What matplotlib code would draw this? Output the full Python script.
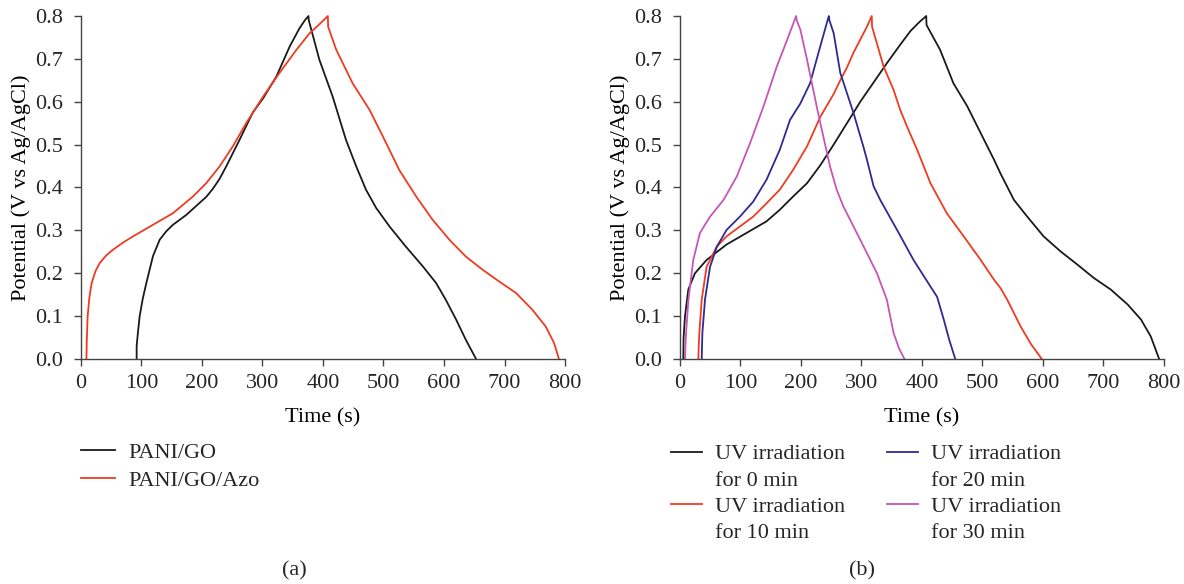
import numpy as np
import matplotlib
matplotlib.use('Agg')
import matplotlib.pyplot as plt
from matplotlib.lines import Line2D

plt.rcParams['font.family'] = ['Liberation Serif', 'DejaVu Serif']
plt.rcParams['text.color'] = '#262626'

# (a) PANI/GO vs PANI/GO/Azo
t_go = [92, 92, 94, 97, 102, 108, 119, 130, 141, 152, 174, 196, 207, 218, 229,
        240, 262, 284, 301, 323, 345, 361, 370, 376, 376.5, 394, 416, 438, 455,
        471, 488, 510, 537, 565, 587, 603, 620, 636, 653]
v_go = [0.0, 0.03, 0.06, 0.10, 0.14, 0.177, 0.24, 0.278, 0.298, 0.313, 0.336,
        0.364, 0.378, 0.397, 0.42, 0.449, 0.511, 0.575, 0.608, 0.659, 0.729,
        0.771, 0.79, 0.80, 0.79, 0.698, 0.612, 0.511, 0.449, 0.395, 0.352, 0.309,
        0.262, 0.216, 0.177, 0.138, 0.092, 0.045, 0.0]

t_azo = [9, 9.5, 11, 14, 17.6, 24, 31, 42, 53, 70, 86, 119, 152, 185, 207, 229,
         251, 273, 301, 328, 356, 378, 395, 408, 408.5, 422, 449, 477, 499, 526,
         554, 581, 609, 636, 664, 691, 719, 746, 768, 782, 790]
v_azo = [0.0, 0.04, 0.1, 0.145, 0.177, 0.205, 0.224, 0.242, 0.255, 0.272, 0.286,
         0.313, 0.340, 0.379, 0.410, 0.449, 0.496, 0.550, 0.612, 0.667, 0.721,
         0.760, 0.782, 0.80, 0.775, 0.721, 0.643, 0.581, 0.519, 0.441, 0.379,
         0.325, 0.278, 0.239, 0.208, 0.181, 0.154, 0.115, 0.076, 0.037, 0.0]

# (b) UV irradiation time
t_0 = [5.5, 6, 8.3, 13.8, 24.8, 44, 77, 110, 143, 165, 187, 210, 232, 254, 276,
       298, 320, 342, 364, 381, 395, 407, 407.5, 430, 452, 475, 497, 519, 530,
       552, 574, 601, 629, 657, 684, 712, 740, 762, 778, 792]
v_0 = [0.0, 0.05, 0.1, 0.162, 0.2, 0.231, 0.267, 0.294, 0.321, 0.348, 0.379,
       0.41, 0.452, 0.50, 0.55, 0.60, 0.645, 0.69, 0.733, 0.765, 0.785, 0.80,
       0.779, 0.721, 0.643, 0.589, 0.527, 0.465, 0.432, 0.371, 0.332, 0.286,
       0.251, 0.22, 0.189, 0.162, 0.127, 0.092, 0.053, 0.0]

t_10 = [30.4, 31, 32, 36, 44, 60.7, 77, 99, 121, 143, 165, 187, 210, 232, 254,
        265, 276, 287, 298, 309, 317, 317.5, 336.6, 353, 364, 375, 392, 414, 441,
        469, 497, 519, 530, 541, 563, 580, 598]
v_10 = [0.0, 0.03, 0.06, 0.139, 0.215, 0.262, 0.286, 0.309, 0.332, 0.363, 0.395,
        0.441, 0.496, 0.565, 0.618, 0.65, 0.68, 0.715, 0.745, 0.775, 0.80, 0.775,
        0.682, 0.628, 0.581, 0.543, 0.488, 0.41, 0.34, 0.286, 0.231, 0.185, 0.165,
        0.138, 0.076, 0.035, 0.0]

t_20 = [35.9, 36.5, 37, 41.4, 49.7, 61, 77, 99, 121, 143, 165, 182, 199, 215,
        232, 240, 246, 247, 254, 265, 287, 303, 309, 320, 331, 358.8, 386, 414,
        425, 436, 445, 455]
v_20 = [0.0, 0.03, 0.06, 0.139, 0.215, 0.262, 0.301, 0.332, 0.367, 0.418, 0.488,
        0.558, 0.596, 0.643, 0.73, 0.77, 0.80, 0.79, 0.76, 0.667, 0.573, 0.496,
        0.465, 0.403, 0.371, 0.301, 0.231, 0.169, 0.145, 0.092, 0.045, 0.0]

t_30 = [8.3, 9, 10, 14, 22, 33, 49.7, 72, 94, 116, 138, 160, 177, 192, 193, 199,
        210, 226, 232, 248, 259, 270, 298, 325.6, 342, 353, 362, 371]
v_30 = [0.0, 0.03, 0.06, 0.139, 0.231, 0.294, 0.332, 0.371, 0.426, 0.504, 0.589,
        0.682, 0.744, 0.80, 0.79, 0.768, 0.698, 0.589, 0.55, 0.449, 0.395, 0.356,
        0.278, 0.2, 0.138, 0.061, 0.025, 0.0]

black = '#1a1a1a'
red = '#ee3b22'
blue = '#2e2a92'
magenta = '#c656b6'

fs = 16
fig = plt.figure(figsize=(11.84, 5.84), dpi=100)
ax1 = fig.add_axes([0.0684, 0.3853, 0.4088, 0.5873])
ax2 = fig.add_axes([0.5743, 0.3853, 0.4088, 0.5873])

for ax in (ax1, ax2):
    ax.spines['top'].set_visible(False)
    ax.spines['right'].set_visible(False)
    for s in ('left', 'bottom'):
        ax.spines[s].set_color('#444444')
        ax.spines[s].set_linewidth(1.0)
    ax.set_xlim(0, 800)
    ax.set_ylim(0, 0.8)
    ax.set_xticks(np.arange(0, 801, 100))
    ax.set_yticks(np.arange(0, 0.81, 0.1))
    ax.set_yticklabels(['%.1f' % v for v in np.arange(0, 0.81, 0.1)])
    ax.tick_params(direction='out', length=5, width=1.0, color='#444444',
                   labelsize=fs, labelcolor='#262626')
    ax.tick_params(axis='x', pad=6)
    ax.tick_params(axis='y', pad=8)
    ax.set_xlabel('Time (s)', fontsize=fs, labelpad=11)
    ax.set_ylabel('Potential (V vs Ag/AgCl)', fontsize=fs, labelpad=3)

lw = 1.3
ax1.plot(t_go, v_go, color=black, lw=lw, clip_on=False, label='PANI/GO')
ax1.plot(t_azo, v_azo, color=red, lw=lw, clip_on=False, label='PANI/GO/Azo')

l0, = ax2.plot(t_0, v_0, color=black, lw=lw, clip_on=False)
l10, = ax2.plot(t_10, v_10, color=red, lw=lw, clip_on=False)
l20, = ax2.plot(t_20, v_20, color=blue, lw=lw, clip_on=False)
l30, = ax2.plot(t_30, v_30, color=magenta, lw=lw, clip_on=False)

leg_kw = dict(loc='upper left', frameon=False, fontsize=fs, borderpad=0,
              borderaxespad=0, handlelength=1.55, handletextpad=0.6,
              labelspacing=0.36)
fig.legend(handles=ax1.get_lines(), bbox_to_anchor=(0.0684, 0.243), **leg_kw)

blank = Line2D([], [], color='none')
leg_kw['handlelength'] = 1.4
leg_kw['labelspacing'] = 0.26
fig.legend(handles=[l0, blank, l10, blank],
           labels=['UV irradiation', 'for 0 min', 'UV irradiation', 'for 10 min'],
           bbox_to_anchor=(0.5667, 0.240), **leg_kw)
fig.legend(handles=[l20, blank, l30, blank],
           labels=['UV irradiation', 'for 20 min', 'UV irradiation', 'for 30 min'],
           bbox_to_anchor=(0.7492, 0.240), **leg_kw)

fig.text(294 / 1184, 1 - 571 / 584, '(a)', ha='center', va='center', fontsize=fs)
fig.text(862 / 1184, 1 - 571 / 584, '(b)', ha='center', va='center', fontsize=fs)

fig.savefig('out.png', dpi=100)
